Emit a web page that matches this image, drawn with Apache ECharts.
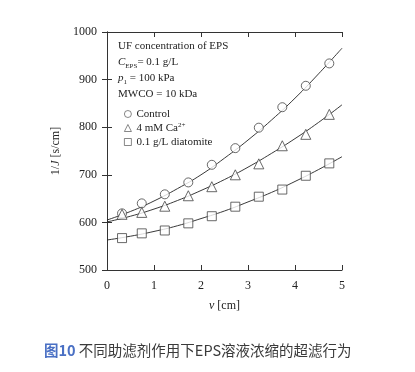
<!DOCTYPE html>
<html><head><meta charset="utf-8">
<script src="https://cdn.jsdelivr.net/npm/echarts@6/dist/echarts.min.js"></script>
<style>html,body{margin:0;padding:0;background:#fff}#c{width:415px;height:372px}</style>
</head><body><div id="c"></div>
<script>
// Measured points (v in cm)
var vPoints = [0.32, 0.74, 1.23, 1.73, 2.23, 2.73, 3.23, 3.73, 4.23, 4.73];
var controlPts = [619, 640, 659, 684, 721, 756, 799, 842, 887, 934];
var caPts = [617, 621, 634, 656, 675, 700, 723, 761, 785, 827];
var diatomitePts = [567, 577, 583, 598, 613, 633, 654, 669, 698, 724];
// Fitted curves
var vFit = [0, 0.5, 1, 1.5, 2, 2.5, 3, 3.5, 4, 4.5, 5];
var controlFit = [605, 623, 645, 671, 700, 735, 773, 815, 861, 912, 966];
var caFit = [601, 613, 628, 646, 667, 690, 716, 745, 776, 810, 847];
var diatomiteFit = [563, 571, 581, 593, 608, 624, 643, 663, 686, 711, 738];
var xTicks = [0, 1, 2, 3, 4, 5];
var yTicks = [500, 600, 700, 800, 900, 1000];
var seriesNames = ['Control', '4 mM Ca2+', '0.1 g/L diatomite'];

function zip(xs, ys) { return xs.map(function (x, i) { return [x, ys[i]]; }); }

var serif = 'Liberation Serif';
var ink = '#333';
var chart = echarts.init(document.getElementById('c'));

function scatter(name, sym, pts) {
  return {
    type: 'scatter', name: name, symbol: sym, symbolSize: sym === 'triangle' ? 10 : 9,
    data: zip(vPoints, pts), z: 3,
    itemStyle: { color: '#fff', borderColor: '#444', borderWidth: 1 }
  };
}
function fit(ys) {
  return {
    type: 'line', data: zip(vFit, ys), smooth: true, showSymbol: false, symbol: 'none',
    lineStyle: { color: '#222', width: 0.9 }, z: 2, silent: true
  };
}

var axisCommon = {
  type: 'value',
  axisLine: { show: true, lineStyle: { color: ink, width: 1 } },
  axisTick: { show: true, inside: true, length: 5, lineStyle: { color: ink } },
  splitLine: { show: false }
};

chart.setOption({
  animation: false,
  grid: { left: 107, right: 73, top: 32, bottom: 102, show: false },
  xAxis: [
    Object.assign({}, axisCommon, {
      min: 0, max: 5, interval: 1, position: 'bottom',
      axisLabel: { fontFamily: serif, fontSize: 12, color: '#222', margin: 10 },
      name: '{i|v} [cm]', nameLocation: 'middle', nameGap: 30,
      nameTextStyle: { fontFamily: serif, fontSize: 12, color: '#222', rich: { i: { fontStyle: 'italic', fontFamily: serif, fontSize: 12, color: '#222' } } }
    }),
    Object.assign({}, axisCommon, {
      min: 0, max: 5, interval: 1, position: 'top', axisLabel: { show: false }
    })
  ],
  yAxis: [
    Object.assign({}, axisCommon, {
      min: 500, max: 1000, interval: 100, position: 'left',
      axisLabel: { fontFamily: serif, fontSize: 12, color: '#222', margin: 10, formatter: function (v) { return String(v); } },
      name: '1/{i|J} [s/cm]', nameLocation: 'middle', nameGap: 38, nameRotate: 90,
      nameTextStyle: { fontFamily: serif, fontSize: 12, color: '#222', rich: { i: { fontStyle: 'italic', fontFamily: serif, fontSize: 12, color: '#222' } } }
    }),
    Object.assign({}, axisCommon, {
      min: 500, max: 1000, interval: 100, position: 'right', axisLabel: { show: false }
    })
  ],
  legend: {
    data: seriesNames, orient: 'vertical', left: 124, top: 108,
    itemWidth: 7, itemHeight: 7, itemGap: 2, padding: 0,
    itemStyle: { borderWidth: 0.8, borderColor: '#444', color: '#fff' },
    formatter: function (n) { return n === '4 mM Ca2+' ? '4 mM Ca{sup|2+}' : n; },
    textStyle: { fontFamily: serif, fontSize: 11, color: '#222', lineHeight: 12,
      rich: { sup: { fontFamily: serif, fontSize: 7, color: '#222', verticalAlign: 'top', lineHeight: 8 } } }
  },
  graphic: [
    { type: 'text', left: 118, top: 41, style: { text: 'UF concentration of EPS', font: '11px "Liberation Serif"', fill: '#222' } },
    { type: 'text', left: 118, top: 57, style: {
        text: '{i|C}{sub|EPS}= 0.1 g/L', font: '11px "Liberation Serif"', fill: '#222',
        rich: { i: { fontStyle: 'italic', fontFamily: serif, fontSize: 11, lineHeight: 14 },
                sub: { fontFamily: serif, fontSize: 7, verticalAlign: 'bottom', lineHeight: 8 } } } },
    { type: 'text', left: 118, top: 73, style: {
        text: '{i|p}{sub|1} = 100 kPa', font: '11px "Liberation Serif"', fill: '#222',
        rich: { i: { fontStyle: 'italic', fontFamily: serif, fontSize: 11, lineHeight: 14 },
                sub: { fontFamily: serif, fontSize: 7, verticalAlign: 'bottom', lineHeight: 8 } } } },
    { type: 'text', left: 118, top: 89, style: { text: 'MWCO = 10 kDa', font: '11px "Liberation Serif"', fill: '#222' } },
    { type: 'text', left: 44, top: 343, style: {
        text: '{b|图10} 不同助滤剂作用下EPS溶液浓缩的超滤行为', font: '14.5px "Noto Sans CJK SC"', fill: '#3a3a3a',
        rich: { b: { fontWeight: 'bold', fontFamily: 'Noto Sans CJK SC', fontSize: 14.5, fill: '#4a70c4', color: '#4a70c4' } } } }
  ],
  series: [
    fit(controlFit), fit(caFit), fit(diatomiteFit),
    scatter(seriesNames[0], 'circle', controlPts),
    scatter(seriesNames[1], 'triangle', caPts),
    scatter(seriesNames[2], 'rect', diatomitePts)
  ]
});
</script></body></html>
